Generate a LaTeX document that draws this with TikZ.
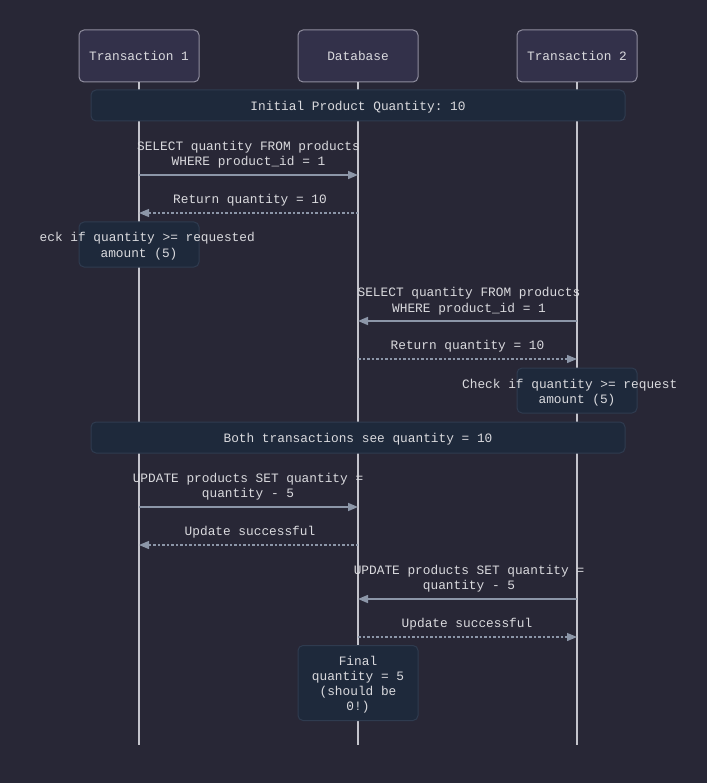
\documentclass[tikz,border=0pt]{standalone}
\usepackage{fontspec}
\setmonofont{Liberation Mono}
\usetikzlibrary{arrows.meta}
\definecolor{bg}{HTML}{282736}
\definecolor{actfill}{HTML}{33314A}
\definecolor{actdraw}{HTML}{8F8D9E}
\definecolor{notefill}{HTML}{1E293B}
\definecolor{notedraw}{HTML}{2F3B4F}
\definecolor{txtc}{HTML}{DADADE}
\definecolor{lifec}{HTML}{C4C4CC}
\definecolor{arrc}{HTML}{8C96A8}
\begin{document}
\begin{tikzpicture}[x=1pt,y=-1pt,
  every node/.style={font=\ttfamily\fontsize{12.8}{15.5}\selectfont, text=txtc, inner sep=0pt},
  actor/.style={draw=actdraw, fill=actfill, line width=1pt, rounded corners=5pt, minimum width=120pt, minimum height=52pt},
  notebox/.style={draw=notedraw, fill=notefill, line width=1pt, rounded corners=5pt},
  life/.style={draw=lifec, line width=1.5pt},
  msg/.style={draw=arrc, line width=1.5pt, -{Triangle[length=10pt,width=8pt]}},
  reply/.style={draw=arrc, line width=1.2pt, dash pattern=on 2.5pt off 2pt, -{Triangle[length=10pt,width=8pt]}},
  lbl/.style={align=center, yshift=-1.5pt},
  tx/.style={yshift=-1.5pt}
]
\fill[bg] (0,0) rectangle (707,783);
\useasboundingbox (0,0) rectangle (707,783);

% actors
\node[actor] (A) at (139,56) {Transaction 1};
\node[actor] (D) at (358,56) {Database};
\node[actor] (B) at (577,56) {Transaction 2};
\coordinate (Aend) at (139,745);
\coordinate (Dend) at (358,745);
\coordinate (Bend) at (577,745);
\draw[life] (A.south) -- (Aend);
\draw[life] (D.south) -- (Dend);
\draw[life] (B.south) -- (Bend);

% note 1
\node[notebox, minimum width=534pt, minimum height=31pt] (n1) at (358,105.5) {};
\node[tx] (n1t) at (358,105.5) {Initial Product Quantity: 10};

% message 1
\coordinate (a1) at (139,175); \coordinate (d1) at (358,175);
\node[lbl] (l1) at (248.5,153) {SELECT quantity FROM products\\WHERE product\_id = 1};
\draw[msg] (a1) -- (d1);
% message 2
\coordinate (a2) at (139,213); \coordinate (d2) at (358,213);
\node[tx] (l2) at (250,199) {Return quantity = 10};
\draw[reply] (d2) -- (a2);

% check note 1
\node[notebox, minimum width=120pt, minimum height=45pt] (c1) at (139,244.5) {};
\node[tx, anchor=west] (c1a) at (39.5,237) {eck if quantity >= requested};
\node[tx] (c1b) at (139,253) {amount (5)};

% message 3
\coordinate (b3) at (577,321); \coordinate (d3) at (358,321);
\node[lbl] (l3) at (469,299.5) {SELECT quantity FROM products\\WHERE product\_id = 1};
\draw[msg] (b3) -- (d3);
% message 4
\coordinate (b4) at (577,359); \coordinate (d4) at (358,359);
\node[tx] (l4) at (467.5,345) {Return quantity = 10};
\draw[reply] (d4) -- (b4);

% check note 2
\node[notebox, minimum width=120pt, minimum height=45pt] (c2) at (577,390.5) {};
\node[tx, anchor=west] (c2a) at (462,384) {Check if quantity >= request};
\node[tx] (c2b) at (577,399) {amount (5)};

% note both
\node[notebox, minimum width=534pt, minimum height=31pt] (n2) at (358,437.5) {};
\node[tx] (n2t) at (358,437.5) {Both transactions see quantity = 10};

% message 5
\coordinate (a5) at (139,507); \coordinate (d5) at (358,507);
\node[lbl] (l5) at (248,485) {UPDATE products SET quantity =\\quantity - 5};
\draw[msg] (a5) -- (d5);
% message 6
\coordinate (a6) at (139,545); \coordinate (d6) at (358,545);
\node[tx] (l6) at (250,531) {Update successful};
\draw[reply] (d6) -- (a6);

% message 7
\coordinate (b7) at (577,599); \coordinate (d7) at (358,599);
\node[lbl] (l7) at (469,577) {UPDATE products SET quantity =\\quantity - 5};
\draw[msg] (b7) -- (d7);
% message 8
\coordinate (b8) at (577,637); \coordinate (d8) at (358,637);
\node[tx] (l8) at (467,623) {Update successful};
\draw[reply] (d8) -- (b8);

% final note
\node[notebox, minimum width=120pt, minimum height=75pt] (fn) at (358,683) {};
\node[align=center, yshift=-2pt, font=\ttfamily\fontsize{12.8}{15}\selectfont] (fnt) at (358,683) {Final\\quantity = 5\\(should be\\0!)};
\end{tikzpicture}
\end{document}
